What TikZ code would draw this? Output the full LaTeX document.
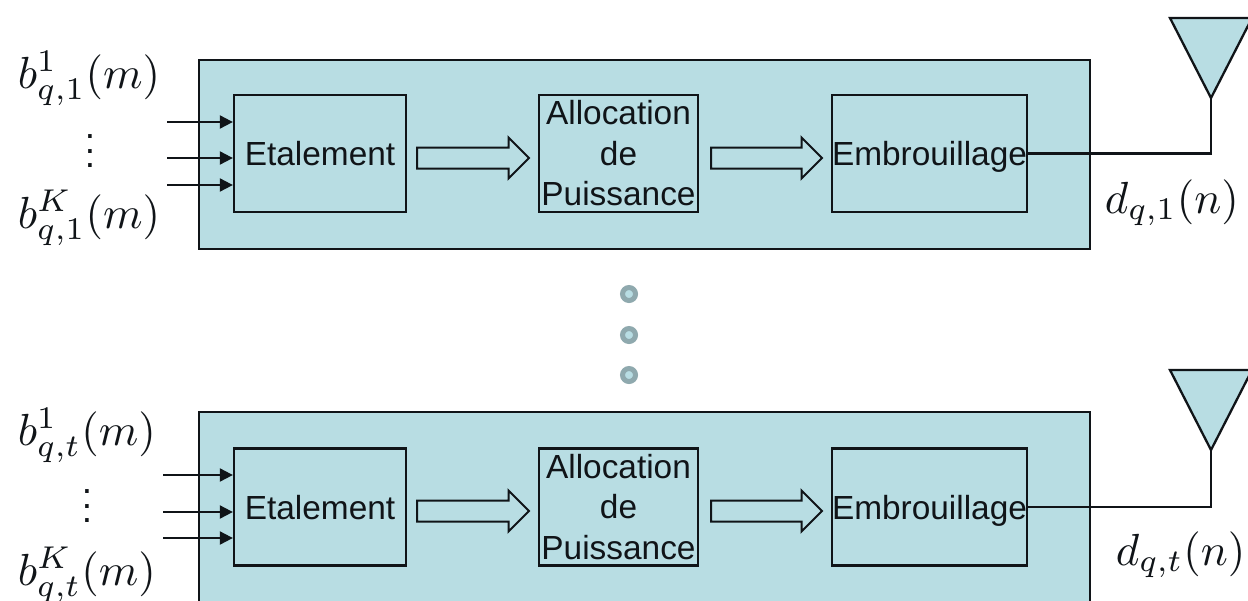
\documentclass[tikz,border=0pt]{standalone}
\usepackage{fontspec}
\setmainfont{Liberation Sans}
\usepackage{amsmath}
\usetikzlibrary{arrows.meta,shapes.arrows}
\definecolor{panel}{HTML}{B8DDE3}
\definecolor{ring}{HTML}{8FA9AE}
\definecolor{ink}{HTML}{101418}
\tikzset{
  x=1pt,y=-1pt,
  outerbox/.style={draw=ink,line width=2.3pt,fill=panel,inner sep=0pt,minimum width=891pt,minimum height=#1,anchor=north west},
  outerbox/.default=189pt,
  blockbox/.style={draw=ink,line width=2.3pt,fill=panel,inner sep=0pt,minimum height=117pt,text=ink,align=center,
    font=\fontsize{33.4}{40.5}\selectfont},
  oneline/.style={text height=24pt,text depth=0pt},
  bigarrow/.style={draw=ink,line width=2pt,fill=panel,single arrow,shape border rotate=0,inner sep=0pt,
    text height=19pt,text depth=0pt,text width=0pt,
    minimum width=39pt,single arrow head extend=10pt,single arrow head indent=0pt,anchor=west},
  inarrow/.style={draw=ink,line width=2pt,-{Triangle[length=13pt,width=13pt]}},
  wire/.style={draw=ink,line width=2.3pt},
  antenna/.style={draw=ink,line width=2.3pt,fill=panel,line join=miter},
  mathlabel/.style={anchor=base west,inner sep=0pt,scale=4.5,text=ink},
  dotslabel/.style={anchor=center,inner sep=0pt,scale=3.7,text=ink},
  dotmark/.style={circle,draw=ring,line width=5pt,fill=panel,minimum size=13pt,inner sep=0pt},
}
\begin{document}
\begin{tikzpicture}
\path[use as bounding box] (0,0) rectangle (1248,600);
\begin{scope}
\clip (0,0) rectangle (1248,600);
\fill[white] (0,0) rectangle (1248,600);

% top row
\node[outerbox] (outerA) at (198,59) {};
\node[blockbox,oneline,minimum width=172pt] (etalA) at (320,153.5) {Etalement};
\node[blockbox,minimum width=159pt] (allocA) at (618.5,153.5) {Allocation\\de\\Puissance};
\node[blockbox,oneline,minimum width=195pt] (embA) at (929.5,153.5) {Embrouillage};
\node[bigarrow,minimum height=112pt] (arrA1) at (416,158) {};
\node[bigarrow,minimum height=111pt] (arrA2) at (710,158) {};

\coordinate (inA1) at (167,122);
\coordinate (inA2) at (167,158);
\coordinate (inA3) at (167,185);
\draw[inarrow] (inA1) -- (inA1 -| etalA.west);
\draw[inarrow] (inA2) -- (inA2 -| etalA.west);
\draw[inarrow] (inA3) -- (inA3 -| etalA.west);

\coordinate (apexA) at (1211,98);
\coordinate (topLA) at (1170,18);
\coordinate (topRA) at (1252,18);
\draw[antenna] (topLA) -- (topRA) -- (apexA) -- cycle;
\draw[wire] (embA.east) -- (embA.east -| apexA) -- (apexA);

\node[mathlabel] (bA1) at (17,88) {$b_{q,1}^{1}(m)$};
\node[mathlabel] (bAK) at (17,228) {$b_{q,1}^{K}(m)$};
\node[dotslabel] (vdA) at (90,140) {$\vdots$};
\node[mathlabel] (dA) at (1104,213) {$d_{q,1}(n)$};

% dots
\node[dotmark] (dot1) at (629,294) {};
\node[dotmark] (dot2) at (629,335) {};
\node[dotmark] (dot3) at (629,375) {};

% bottom row
\node[outerbox=200pt] (outerB) at (198,411) {};
\node[blockbox,oneline,minimum width=172pt] (etalB) at (320,507) {Etalement};
\node[blockbox,minimum width=159pt] (allocB) at (618.5,507) {Allocation\\de\\Puissance};
\node[blockbox,oneline,minimum width=195pt] (embB) at (929.5,507) {Embrouillage};
\node[bigarrow,minimum height=112pt] (arrB1) at (416,511) {};
\node[bigarrow,minimum height=111pt] (arrB2) at (710,511) {};

\coordinate (inB1) at (163,475);
\coordinate (inB2) at (163,512);
\coordinate (inB3) at (163,538);
\draw[inarrow] (inB1) -- (inB1 -| etalB.west);
\draw[inarrow] (inB2) -- (inB2 -| etalB.west);
\draw[inarrow] (inB3) -- (inB3 -| etalB.west);

\coordinate (apexB) at (1211,450);
\coordinate (topLB) at (1170,370);
\coordinate (topRB) at (1252,370);
\draw[antenna] (topLB) -- (topRB) -- (apexB) -- cycle;
\draw[wire] (embB.east) -- (embB.east -| apexB) -- (apexB);

\node[mathlabel] (bB1) at (17,445) {$b_{q,t}^{1}(m)$};
\node[mathlabel] (bBK) at (17,585) {$b_{q,t}^{K}(m)$};
\node[dotslabel] (vdB) at (87,495) {$\vdots$};
\node[mathlabel] (dB) at (1115,565) {$d_{q,t}(n)$};
\end{scope}
\end{tikzpicture}
\end{document}
